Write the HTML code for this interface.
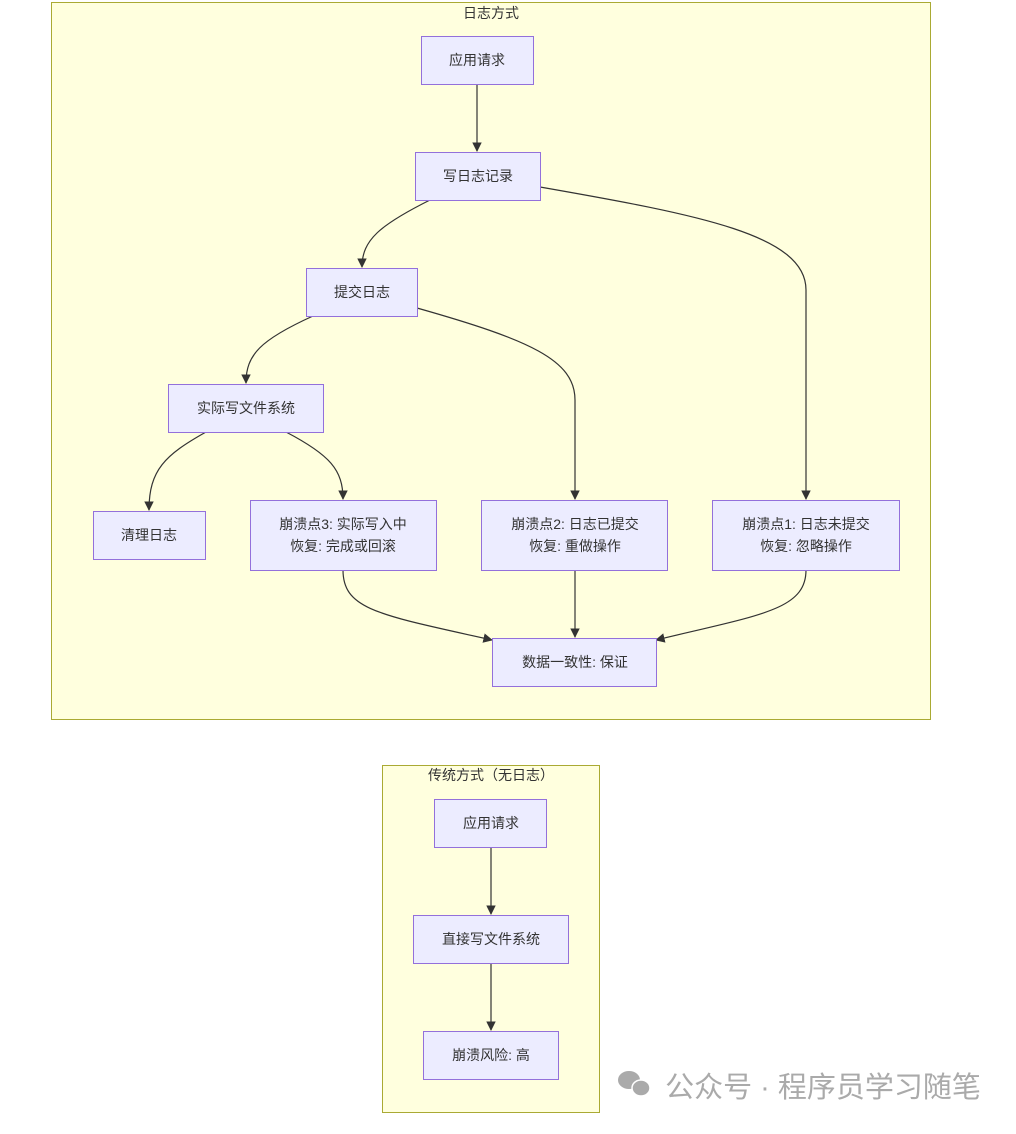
<!DOCTYPE html>
<html><head><meta charset="utf-8"><style>
body{margin:0;background:#fff;}
svg text{font-family:"Liberation Sans","Noto Sans CJK SC",sans-serif;font-size:14px;fill:#333;text-anchor:middle;}
.c{fill:#ffffde;stroke:#aaaa33;stroke-width:1}
.n{fill:#ececff;stroke:#9370db;stroke-width:1}
.e{fill:none;stroke:#333;stroke-width:1.2;marker-end:url(#a)}
</style></head><body>
<svg width="1016" height="1129" viewBox="0 0 1016 1129">
<defs><marker id="a" viewBox="0 0 10 10" refX="9" refY="5" markerWidth="8" markerHeight="8" orient="auto"><path d="M0,0L10,5L0,10z" fill="#333"/></marker></defs>
<rect class="c" x="51.5" y="2.5" width="879" height="717"/>
<text x="491" y="18">日志方式</text>
<rect class="c" x="382.5" y="765.5" width="217" height="347"/>
<text x="491" y="780">传统方式（无日志）</text>

<path class="e" d="M477,84 V151"/>
<path class="e" d="M430,200 C380,225 362,240 362,267"/>
<path class="e" d="M540,187 C700,215 806,235 806,290 V499"/>
<path class="e" d="M313,316 C260,340 246,355 246,383"/>
<path class="e" d="M417,308 C530,340 575,360 575,400 V499"/>
<path class="e" d="M206,432 C165,455 149,470 149,510"/>
<path class="e" d="M286,432 C330,455 343,470 343,499"/>
<path class="e" d="M343,570 C343,610 380,615 492,640"/>
<path class="e" d="M575,570 V637"/>
<path class="e" d="M806,570 C806,610 760,615 656,640"/>
<path class="e" d="M491,847 V914"/>
<path class="e" d="M491,963 V1030"/>

<rect class="n" x="421.5" y="36.5" width="112" height="48"/><text x="477" y="65">应用请求</text>
<rect class="n" x="415.5" y="152.5" width="125" height="48"/><text x="478" y="181">写日志记录</text>
<rect class="n" x="306.5" y="268.5" width="111" height="48"/><text x="362" y="297">提交日志</text>
<rect class="n" x="168.5" y="384.5" width="155" height="48"/><text x="246" y="413">实际写文件系统</text>
<rect class="n" x="93.5" y="511.5" width="112" height="48"/><text x="149" y="540">清理日志</text>
<rect class="n" x="250.5" y="500.5" width="186" height="70"/><text x="343" y="529">崩溃点3: 实际写入中</text><text x="343" y="551">恢复: 完成或回滚</text>
<rect class="n" x="481.5" y="500.5" width="186" height="70"/><text x="575" y="529">崩溃点2: 日志已提交</text><text x="575" y="551">恢复: 重做操作</text>
<rect class="n" x="712.5" y="500.5" width="187" height="70"/><text x="806" y="529">崩溃点1: 日志未提交</text><text x="806" y="551">恢复: 忽略操作</text>
<rect class="n" x="492.5" y="638.5" width="164" height="48"/><text x="575" y="667">数据一致性: 保证</text>
<rect class="n" x="434.5" y="799.5" width="112" height="48"/><text x="491" y="828">应用请求</text>
<rect class="n" x="413.5" y="915.5" width="155" height="48"/><text x="491" y="944">直接写文件系统</text>
<rect class="n" x="423.5" y="1031.5" width="135" height="48"/><text x="491" y="1060">崩溃风险: 高</text>

<g fill="#aaa"><ellipse cx="629" cy="1080" rx="11" ry="9"/><ellipse cx="641" cy="1088" rx="9" ry="8" stroke="#fff" stroke-width="1.5"/></g>
<text x="823" y="1097" style="font-size:29px;fill:#aaa">公众号 · 程序员学习随笔</text>
</svg>
</body></html>
